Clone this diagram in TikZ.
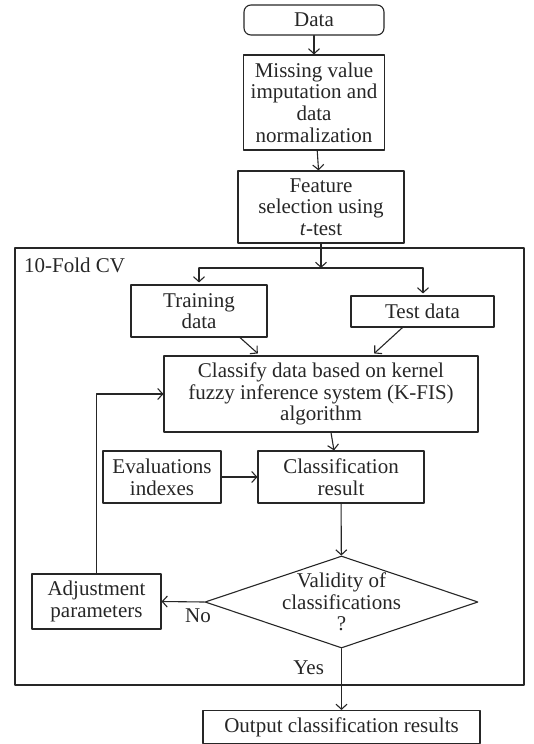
\documentclass[tikz,border=0pt]{standalone}
\usepackage{fontspec}
\setmainfont{Liberation Serif}
\usetikzlibrary{arrows.meta, shapes}
\usetikzlibrary{calc}
\usetikzlibrary{positioning}

\begin{document}
\begin{tikzpicture}[line cap=round,line join=round,>={Straight Barb[length=5pt,width=11pt]},x=1pt,y=-1pt]
  \tikzset{
  % boxes of the flow chart
  stepbox/.style={draw=black!85, line width=1.1pt, align=center, inner sep=0pt,
    text=black!85, font=\fontsize{21}{21.7}\selectfont},
  % the decision diamond, text is put in as a label
  decision/.style={draw=black!85, line width=1.1pt, diamond, inner sep=0pt,
    minimum width=273pt, minimum height=92pt},
  % connectors
  flow/.style={->, line width=1.1pt, draw=black!85},
  tag/.style={inner sep=0pt, text=black!85, font=\fontsize{21}{21.7}\selectfont},
}
\useasboundingbox (0,0) rectangle (534,744);

\node[stepbox, rounded corners=7pt, minimum width=140pt, minimum height=30pt] (data) at (314,20) {Data};
\node[stepbox, minimum width=141pt, minimum height=95pt] (miss) at (314,102.5) {Missing value\\imputation and\\data\\normalization};
\node[stepbox, minimum width=166pt, minimum height=72pt] (feat) at (321,207) {Feature\\selection using\\\textit{t}-test};

% the cross validation frame
\draw[line width=1.1pt, black!85] (15,248) rectangle (524,685);
\node[tag, anchor=west] (cv) at (24,265) {10-Fold CV};

\node[stepbox, minimum width=136pt, minimum height=52pt] (train) at (199,311) {Training\\data};
\node[stepbox, minimum width=143pt, minimum height=31pt] (test) at (422.5,311.5) {Test data};
\node[stepbox, minimum width=314pt, minimum height=76pt] (classify) at (321,394) {Classify data based on kernel\\fuzzy inference system (K-FIS)\\algorithm};
\node[stepbox, minimum width=118pt, minimum height=52pt] (eval) at (162,477) {Evaluations\\indexes};
\node[stepbox, minimum width=166pt, minimum height=52pt] (result) at (341,477) {Classification\\result};
\node[decision, label={[tag, align=center]center:Validity of\\classifications\\?}] (valid) at (341.5,602) {};
\node[stepbox, minimum width=129pt, minimum height=55pt] (adjust) at (96.5,601.5) {Adjustment\\parameters};
\node[stepbox, minimum width=277pt, minimum height=33pt] (output) at (341.5,727) {Output classification results};

\coordinate (split) at (321,268);
\coordinate (sl) at (199,268);
\coordinate (sr) at (423,268);

\draw[flow] (data) -- (miss);
\draw[flow] (miss) -- (feat);
\draw[flow] (feat) -- (split);
\draw[line width=1.1pt, black!85] (sl) -- (sr);
\draw[flow, shorten >=2pt] (sl) -- (train);
\draw[flow, shorten >=2pt] (sr) -- (sr |- test.north);
\draw[flow, shorten >=3pt] ([xshift=41pt]train.south) -- ([xshift=-61pt]classify.north);
\draw[flow, shorten >=3pt] ([xshift=-20pt]test.south) -- ([xshift=51pt]classify.north);
\draw[flow] ([xshift=10pt]classify.south) -- ([xshift=-7pt]result.north);
\draw[flow] (eval) -- (result);
\draw[flow] (result) -- (valid);
\draw[flow] (valid.west) -- (adjust.east) node[tag, pos=0.15, below=6pt] {No};
\draw[flow] (adjust.north) |- (classify.west);
\draw[flow] (valid.south) -- (output.north) node[tag, pos=0.32, left=17pt] {Yes};
\end{tikzpicture}
\end{document}
